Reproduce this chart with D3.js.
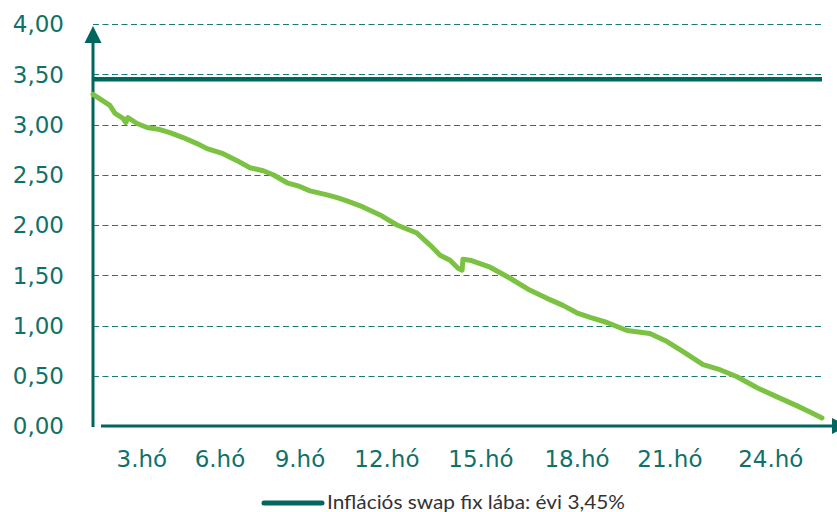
<!DOCTYPE html>
<html>
<head>
<meta charset="utf-8">
<script src="https://cdn.jsdelivr.net/npm/d3@7"></script>
<style>
  body { margin: 0; background: #fff; }
  text { font-family: "DejaVu Sans", sans-serif; }
</style>
</head>
<body>
<svg width="837" height="512"></svg>
<script>
// months since start (x) and value in % (y)
var months = [0.00, 0.59, 0.77, 1.05, 1.15, 1.22, 1.54, 1.89, 2.34, 2.69,
              3.15, 3.64, 3.99, 4.55, 5.04, 5.49, 5.95, 6.30, 6.79, 7.17,
              7.59, 8.19, 8.57, 8.88, 9.44, 10.04, 10.63, 11.33, 11.79, 12.14,
              12.49, 12.77, 12.91, 12.94, 13.19, 13.89, 14.59, 15.29, 15.88, 16.44,
              16.97, 17.39, 17.98, 18.68, 19.48, 20.08, 20.64, 21.34, 21.93, 22.53,
              23.23, 23.93, 24.63, 25.08, 25.50];
var values = [3.30, 3.19, 3.11, 3.06, 3.02, 3.07, 3.01, 2.97, 2.95, 2.92,
              2.87, 2.81, 2.76, 2.71, 2.64, 2.57, 2.54, 2.50, 2.42, 2.39,
              2.34, 2.30, 2.27, 2.24, 2.18, 2.10, 2.00, 1.92, 1.80, 1.70,
              1.65, 1.57, 1.55, 1.66, 1.65, 1.58, 1.47, 1.35, 1.27, 1.20,
              1.12, 1.08, 1.03, 0.95, 0.92, 0.84, 0.74, 0.61, 0.56, 0.49,
              0.38, 0.29, 0.20, 0.14, 0.08];

var swapRate = 3.45;
var legendLabel = "Inflációs swap fix lába: évi 3,45%";

var yTicks = [0, 0.5, 1, 1.5, 2, 2.5, 3, 3.5, 4];
var xTickLabels = ["3.hó", "6.hó", "9.hó", "12.hó", "15.hó", "18.hó", "21.hó", "24.hó"];
// where each label sits along the month axis in the picture
var xTickPos = [1.71, 4.44, 7.24, 10.28, 13.57, 16.93, 20.18, 23.71];

var teal = "#00665f",
    tealText = "#10706a",
    green = "#7cc242";

var svg = d3.select("svg");

var x = d3.scaleLinear().domain([0, 25.5]).range([93, 822]);
var y = d3.scaleLinear().domain([0, 4]).range([426, 24]);

// dashed gridlines
svg.append("g")
    .selectAll("line")
    .data(yTicks.filter(function(d) { return d > 0; }))
    .enter().append("line")
    .attr("x1", x(0))
    .attr("x2", x(25.5))
    .attr("y1", function(d) { return Math.round(y(d)) + 0.5; })
    .attr("y2", function(d) { return Math.round(y(d)) + 0.5; })
    .attr("stroke", "#1a7875")
    .attr("stroke-width", 1)
    .attr("stroke-dasharray", "6,3.5");

// y labels
svg.append("g")
    .selectAll("text")
    .data(yTicks)
    .enter().append("text")
    .attr("x", 64)
    .attr("y", function(d) { return y(d); })
    .attr("dy", "0.36em")
    .attr("text-anchor", "end")
    .attr("fill", tealText)
    .style("font-size", "23px")
    .text(function(d) { return d3.format(".2f")(d).replace(".", ","); });

// x labels
svg.append("g")
    .selectAll("text")
    .data(xTickLabels)
    .enter().append("text")
    .attr("x", function(d, i) { return x(xTickPos[i]); })
    .attr("y", 467)
    .attr("text-anchor", "middle")
    .attr("fill", tealText)
    .style("font-size", "23px")
    .text(function(d) { return d; });

// swap fixed leg
svg.append("line")
    .attr("x1", x(0))
    .attr("x2", x(25.5))
    .attr("y1", y(swapRate))
    .attr("y2", y(swapRate))
    .attr("stroke", teal)
    .attr("stroke-width", 4.5);

// axes with arrows
svg.append("line")
    .attr("x1", x(0)).attr("x2", x(0))
    .attr("y1", y(0) + 1).attr("y2", 40)
    .attr("stroke", teal)
    .attr("stroke-width", 3);
svg.append("path")
    .attr("d", d3.line()([[x(0) - 8.5, 43], [x(0), 26], [x(0) + 8.5, 43]]) + "Z")
    .attr("fill", teal);

svg.append("line")
    .attr("x1", 101).attr("x2", 834)
    .attr("y1", y(0)).attr("y2", y(0))
    .attr("stroke", teal)
    .attr("stroke-width", 3);
svg.append("path")
    .attr("d", d3.line()([[832, y(0) - 8], [848, y(0)], [832, y(0) + 8]]) + "Z")
    .attr("fill", teal);

// green curve
var line = d3.line()
    .x(function(d) { return x(d[0]); })
    .y(function(d) { return y(d[1]); });

svg.append("path")
    .datum(months.map(function(m, i) { return [m, values[i]]; }))
    .attr("fill", "none")
    .attr("stroke", green)
    .attr("stroke-width", 5)
    .attr("stroke-linejoin", "round")
    .attr("stroke-linecap", "round")
    .attr("d", line);

// legend
var lg = svg.append("g").attr("transform", "translate(0,503)");
lg.append("line")
    .attr("x1", 264).attr("x2", 322)
    .attr("stroke", teal)
    .attr("stroke-width", 5)
    .attr("stroke-linecap", "round");
lg.append("text")
    .attr("x", 327)
    .attr("y", 6)
    .attr("fill", "#333")
    .attr("textLength", 298)
    .attr("lengthAdjust", "spacingAndGlyphs")
    .style("font-family", "Lato, sans-serif")
    .style("font-size", "19px")
    .text(legendLabel);
</script>
</body>
</html>
